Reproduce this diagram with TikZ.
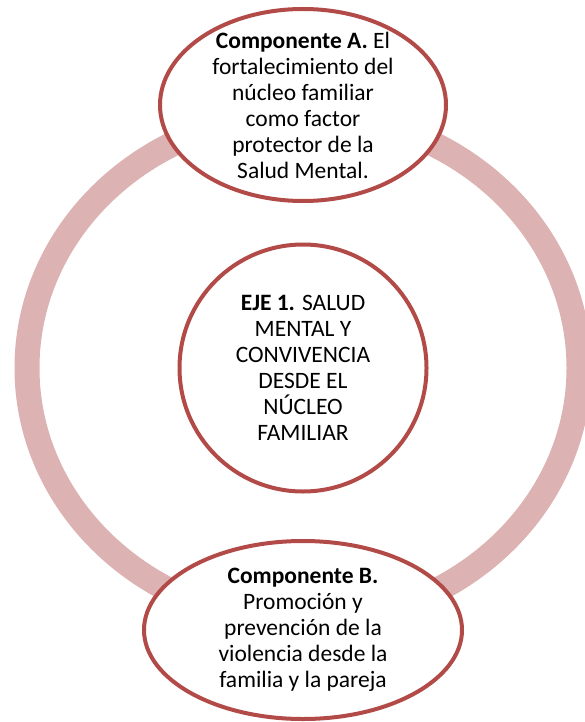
\documentclass[tikz,border=0pt]{standalone}
\usepackage{fontspec}
\setmainfont{Carlito}
\usepackage{xcolor}
\usepackage{tikz}
\usetikzlibrary{shapes.geometric, positioning}
\definecolor{ejered}{RGB}{178,75,71}
\definecolor{ringpink}{RGB}{221,178,178}
\tikzstyle{ring} = [ellipse, draw=ringpink, line width=25pt, inner sep=0pt]
\tikzstyle{bubble} = [ellipse, draw=ejered, line width=4pt, fill=white, inner sep=0pt]
\tikzstyle{txt} = [align=center, font=\fontsize{23.5}{26}\selectfont, text=black, inner sep=0pt]

\begin{document}
\begin{tikzpicture}[x=1pt, y=-1pt]
    \useasboundingbox (0,0) rectangle (584,722);
    % Nodes
    \node [ring, minimum width=552pt, minimum height=508pt] (ring) at (303,368) {};
    \node [bubble, minimum width=286pt, minimum height=192pt] (compA) at (303,105) {};
    \node [bubble, minimum width=247pt, minimum height=247pt] (eje) at (303,368) {};
    \node [bubble, minimum width=318pt, minimum height=178pt] (compB) at (303,630) {};

    % Texts
    \node [txt] (compAtxt) at (compA) {\textbf{Componente A.} El\\ fortalecimiento del\\ núcleo familiar\\ como factor\\ protector de la\\ Salud Mental.};
    \node [txt] (ejetxt) at (eje) {\textbf{EJE 1.} SALUD\\ MENTAL Y\\ CONVIVENCIA\\ DESDE EL\\ NÚCLEO\\ FAMILIAR};
    \node [txt] (compBtxt) at (compB) {\textbf{Componente B.}\\ Promoción y\\ prevención de la\\ violencia desde la\\ familia y la pareja};
\end{tikzpicture}
\end{document}
